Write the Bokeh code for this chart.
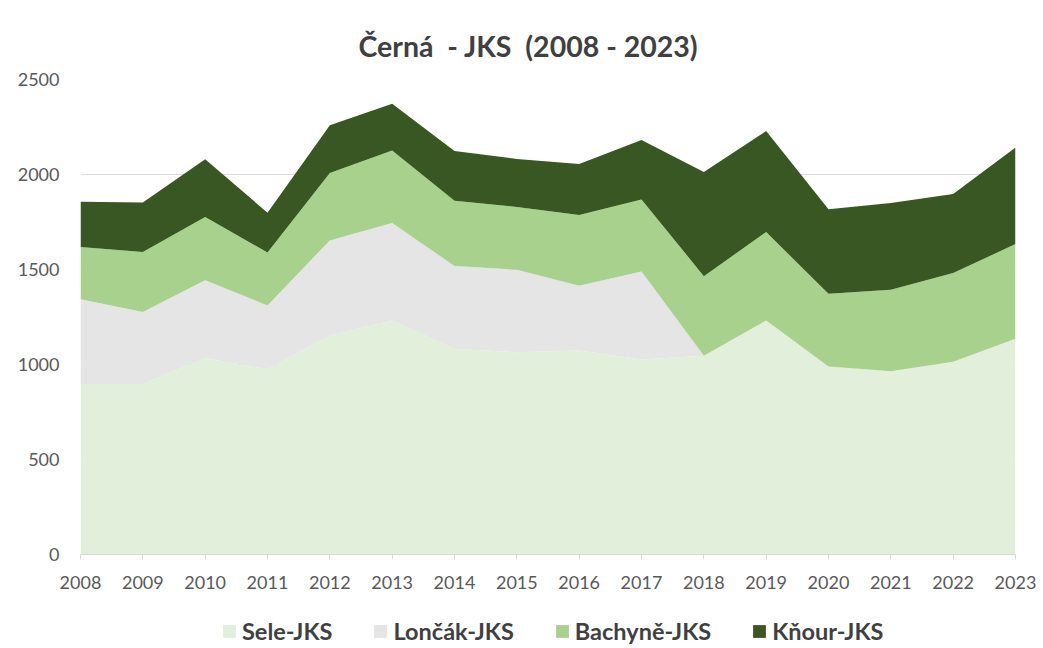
from bokeh.plotting import figure
from bokeh.layouts import column
from bokeh.models import ColumnDataSource, Range1d, FixedTicker, Legend, LegendItem
from bokeh.embed import file_html
from bokeh.resources import INLINE

years = list(range(2008, 2024))
sele = [898, 898, 1033, 975, 1153, 1232, 1081, 1065, 1074, 1026, 1046, 1232, 989, 965, 1014, 1135]
loncak = [446, 378, 410, 336, 500, 513, 437, 434, 341, 464, 0, 0, 0, 0, 0, 0]
bachyne = [274, 316, 333, 279, 355, 381, 344, 330, 372, 379, 419, 465, 383, 428, 467, 499]
knour = [239, 260, 304, 209, 251, 247, 262, 253, 268, 313, 548, 532, 445, 457, 416, 508]
series_names = ["Sele-JKS", "Lončák-JKS", "Bachyně-JKS", "Kňour-JKS"]
colors = ["#E2EFDA", "#E5E5E5", "#A9D18E", "#385723"]
y_ticks = [0, 500, 1000, 1500, 2000, 2500]
title_text = "Černá \u00a0- JKS \u00a0(2008 - 2023)"

keys = ["sele", "loncak", "bachyne", "knour"]
source = ColumnDataSource(dict(year=years, sele=sele, loncak=loncak, bachyne=bachyne, knour=knour))

p = figure(width=1043, height=605, output_backend="svg", toolbar_location=None,
           x_range=Range1d(years[0], years[-1]), y_range=Range1d(y_ticks[0], y_ticks[-1]),
           min_border_left=80, min_border_right=28, min_border_top=79, min_border_bottom=51,
           title=title_text)
p.outline_line_color = None
p.background_fill_color = "white"
p.border_fill_color = "white"

p.title.align = "left"
p.title.offset = 278
p.title.text_font = "Lato"
p.title.text_font_size = "28.5px"
p.title.text_font_style = "bold"
p.title.text_color = "#404040"
p.title.standoff = 33

renderers = p.varea_stack(stackers=keys, x="year", color=colors, source=source)

p.xgrid.grid_line_color = None
p.ygrid.grid_line_color = "#D9D9D9"
p.ygrid.ticker = FixedTicker(ticks=y_ticks)

p.xaxis.ticker = FixedTicker(ticks=years)
p.xaxis.axis_line_color = "#D9D9D9"
p.xaxis.major_tick_line_color = "#D9D9D9"
p.xaxis.major_tick_in = 0
p.xaxis.major_tick_out = 5
p.xaxis.minor_tick_line_color = None
p.xaxis.major_label_standoff = 16
p.xaxis.major_label_text_font = "Lato"
p.xaxis.major_label_text_font_size = "18px"
p.xaxis.major_label_text_color = "#595959"

p.yaxis.ticker = FixedTicker(ticks=y_ticks)
p.yaxis.axis_line_color = None
p.yaxis.major_tick_line_color = None
p.yaxis.minor_tick_line_color = None
p.yaxis.major_label_standoff = 15
p.yaxis.major_label_text_font = "Lato"
p.yaxis.major_label_text_font_size = "18px"
p.yaxis.major_label_text_color = "#595959"

# legend strip below the chart; its stacked areas lie outside its visible y-range,
# so only the legend keys are seen
p2 = figure(width=1043, height=43, output_backend="svg", toolbar_location=None,
            x_range=Range1d(years[0], years[-1]), y_range=Range1d(-2, -1),
            x_axis_location=None, y_axis_location=None,
            min_border_left=0, min_border_right=0, min_border_top=0, min_border_bottom=0)
p2.outline_line_color = None
p2.xgrid.grid_line_color = None
p2.ygrid.grid_line_color = None
proxies = p2.varea_stack(stackers=keys, x="year", color=colors, source=source)

legend = Legend(items=[LegendItem(label=n, renderers=[r]) for n, r in zip(series_names, proxies)],
                orientation="horizontal", location=(141, 3),
                glyph_width=16, glyph_height=16, label_standoff=5, spacing=40,
                padding=0, margin=0, border_line_color=None, background_fill_alpha=0,
                label_text_font="Lato", label_text_font_style="bold",
                label_text_font_size="23.5px", label_text_color="#404040")
p2.add_layout(legend, "center")

layout = column(p, p2, spacing=0)
open("out.html", "w").write(file_html(layout, INLINE))
